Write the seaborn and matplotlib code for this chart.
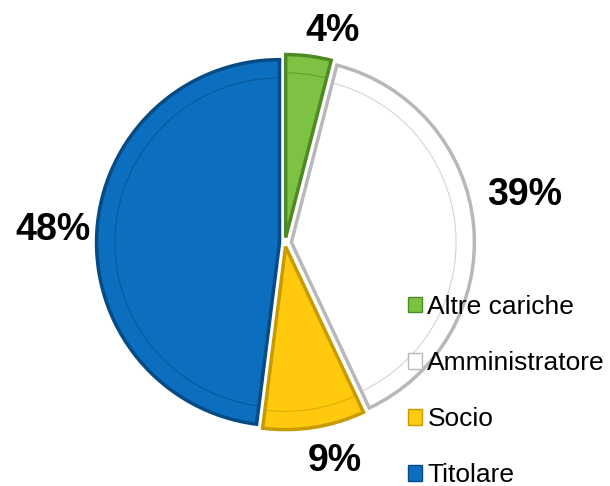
import matplotlib
matplotlib.use("Agg")
import matplotlib.pyplot as plt
import seaborn as sns
import numpy as np

categories = ["Altre cariche", "Amministratore", "Socio", "Titolare"]
values = [4, 39, 9, 48]
colors = ["#7DC242", "#FFFFFF", "#FFC90E", "#0B6EBE"]
edges = ["#4E8A23", "#B8B8B8", "#C79A00", "#074B85"]
explode = [0.03, 0.035, 0.02, 0.03]

sns.set_theme(style="white")
plt.rcParams["font.family"] = ["Liberation Sans", "DejaVu Sans"]

fig = plt.figure(figsize=(6.10, 4.86), dpi=100)
ax = fig.add_axes([102 / 610, 60 / 486, 366 / 610, 366 / 486])

wedges, texts, autotexts = ax.pie(
    values, colors=colors, explode=explode, startangle=90, counterclock=False,
    autopct="%d%%", pctdistance=1.25, radius=1.0,
    wedgeprops=dict(linewidth=2.5),
    textprops=dict(fontsize=27, fontweight="bold", color="black"))
for w, e in zip(wedges, edges):
    w.set_edgecolor(e)
    w.set_clip_on(False)

# inner bevel outline
inner, _ = ax.pie(values, colors=["none"] * 4, explode=explode, startangle=90,
                  counterclock=False, radius=0.9,
                  wedgeprops=dict(linewidth=0.8, fill=False))
for w, e in zip(inner, edges):
    w.set_edgecolor(e)
    w.set_alpha(0.6)
    w.set_clip_on(False)

# label placement (layout only), in order of the slices
label_pos = [(0.26, 1.16), (1.31, 0.26), (0.27, -1.19), (-1.27, 0.07)]
for t, p in zip(autotexts, label_pos):
    t.set_position(p)
    t.set_clip_on(False)

ax.set_xlim(-1, 1)
ax.set_ylim(-1, 1)
ax.set_aspect("equal")
ax.axis("off")

handles = [plt.Rectangle((0, 0), 1, 1, facecolor=c, edgecolor=e, linewidth=1)
           for c, e in zip(colors, edges)]
leg = fig.legend(handles, categories, loc="lower left", bbox_to_anchor=(397 / 610, -12 / 486),
                 frameon=False, fontsize=19, handlelength=0.55, handleheight=0.55,
                 handletextpad=0.2, labelspacing=1.22, borderaxespad=0)
for t in leg.get_texts():
    t.set_color("black")

fig.savefig("out.png", dpi=100)
